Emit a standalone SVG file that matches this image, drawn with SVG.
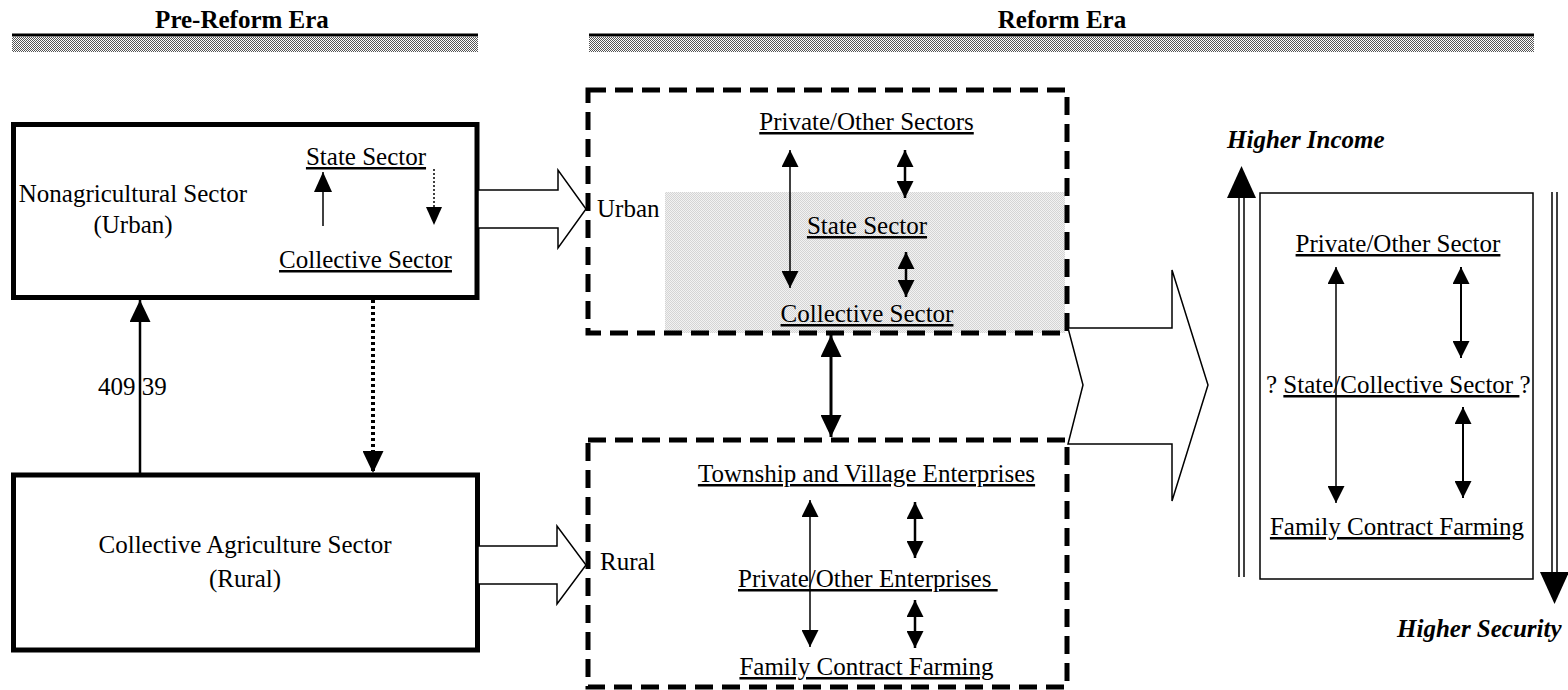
<svg xmlns="http://www.w3.org/2000/svg" width="1568" height="690" viewBox="0 0 1568 690">
<defs>
<style>
text { font-family: "Liberation Serif", "Times New Roman", serif; font-size: 25px; fill: #000; }
.u { text-decoration: underline; }
.hd { font-weight: bold; }
.bi { font-weight: bold; font-style: italic; }
.box { fill: #fff; stroke: #000; stroke-width: 5; }
.dbox { fill: none; stroke: #000; stroke-width: 5; stroke-dasharray: 18 9; }
.ln { stroke: #000; fill: none; }
.hollow { fill: #fff; stroke: #000; stroke-width: 1.5; stroke-linejoin: miter; }
.pre { white-space: pre; }
</style>
<pattern id="hatch" width="2" height="2" patternUnits="userSpaceOnUse">
<rect width="2" height="2" fill="#fff"/><rect width="1" height="1" fill="#555"/><rect x="1" y="1" width="1" height="1" fill="#555"/>
</pattern>
<pattern id="shade" width="2" height="2" patternUnits="userSpaceOnUse">
<rect width="2" height="2" fill="#f2f2f2"/><rect width="1" height="1" fill="#d4d4d4"/><rect x="1" y="1" width="1" height="1" fill="#d4d4d4"/>
</pattern>
<marker id="a17" markerUnits="userSpaceOnUse" viewBox="0 0 17 17" markerWidth="17" markerHeight="17" refX="17" refY="8.5" orient="auto-start-reverse"><path d="M0,0 L17,8.5 L0,17 z" fill="#000"/></marker>
<marker id="a20" markerUnits="userSpaceOnUse" viewBox="0 0 20 18" markerWidth="20" markerHeight="18" refX="20" refY="9" orient="auto-start-reverse"><path d="M0,0 L20,9 L0,18 z" fill="#000"/></marker>
<marker id="a18s" markerUnits="userSpaceOnUse" viewBox="0 0 18 16" markerWidth="18" markerHeight="16" refX="18" refY="8" orient="auto-start-reverse"><path d="M0,0 L18,8 L0,16 z" fill="#000"/></marker>
<marker id="aL" markerUnits="userSpaceOnUse" viewBox="0 0 22 21" markerWidth="22" markerHeight="21" refX="22" refY="10.5" orient="auto-start-reverse"><path d="M0,0 L22,10.5 L0,21 z" fill="#000"/></marker>
</defs>

<rect width="1568" height="690" fill="#fff"/>

<g id="header-pre-reform">
<text class="hd" x="242" y="28" text-anchor="middle">Pre-Reform Era</text>
<line x1="12" y1="35" x2="478" y2="35" class="ln" stroke-width="3"/>
<rect x="12" y="37" width="466" height="15" fill="url(#hatch)"/>
</g>

<g id="header-reform">
<text class="hd" x="1062" y="28" text-anchor="middle">Reform Era</text>
<line x1="589" y1="35" x2="1534" y2="35" class="ln" stroke-width="3"/>
<rect x="589" y="37" width="945" height="15" fill="url(#hatch)"/>
</g>

<g id="node-nonagricultural">
<rect class="box" x="13.5" y="124.5" width="463.5" height="173"/>
<text x="133" y="202" text-anchor="middle">Nonagricultural Sector</text>
<text x="133" y="233" text-anchor="middle">(Urban)</text>
<text class="u" x="366" y="165" text-anchor="middle">State Sector</text>
<text class="u" x="365.5" y="268" text-anchor="middle">Collective Sector</text>
<line class="ln" x1="323" y1="226" x2="323" y2="172" stroke-width="1.5" marker-end="url(#a20)"/>
<line class="ln" x1="434" y1="169" x2="434" y2="225" stroke-width="1.5" stroke-dasharray="2 2" marker-end="url(#a18s)"/>
</g>

<g id="node-collective-agriculture">
<rect class="box" x="13.5" y="475" width="464" height="175"/>
<text x="245" y="553" text-anchor="middle">Collective Agriculture Sector</text>
<text x="245" y="587" text-anchor="middle">(Rural)</text>
</g>

<g id="node-urban">
<rect x="665" y="192" width="400" height="141" fill="url(#shade)"/>
<rect class="dbox" x="588" y="90" width="479" height="243"/>
<text x="597" y="217">Urban</text>
<text class="u" x="866.5" y="130" text-anchor="middle">Private/Other Sectors</text>
<text class="u" x="867" y="234" text-anchor="middle">State Sector</text>
<text class="u" x="867" y="322" text-anchor="middle">Collective Sector</text>
<line class="ln" x1="790" y1="150" x2="790" y2="288" stroke-width="1.5" marker-start="url(#a17)" marker-end="url(#a17)"/>
<line class="ln" x1="905" y1="150" x2="905" y2="198" stroke-width="2.5" marker-start="url(#a17)" marker-end="url(#a17)"/>
<line class="ln" x1="906" y1="252" x2="906" y2="297" stroke-width="2.5" marker-start="url(#a17)" marker-end="url(#a17)"/>
</g>

<g id="node-rural">
<rect class="dbox" x="588" y="440" width="479" height="247"/>
<text x="600" y="570">Rural</text>
<text class="u" x="866.5" y="482" text-anchor="middle">Township and Village Enterprises</text>
<text class="u pre" x="738" y="587">Private/Other Enterprises </text>
<text class="u" x="866.5" y="675" text-anchor="middle">Family Contract Farming</text>
<line class="ln" x1="810" y1="500" x2="810" y2="647" stroke-width="1.5" marker-start="url(#a17)" marker-end="url(#a17)"/>
<line class="ln" x1="915" y1="502" x2="915" y2="558" stroke-width="2.5" marker-start="url(#a17)" marker-end="url(#a17)"/>
<line class="ln" x1="915" y1="600" x2="915" y2="648" stroke-width="2.5" marker-start="url(#a17)" marker-end="url(#a17)"/>
</g>

<g id="node-outcome">
<rect x="1260" y="193" width="273" height="386" fill="#fff" stroke="#000" stroke-width="1.5"/>
<text class="u" x="1398" y="252" text-anchor="middle">Private/Other Sector</text>
<text class="pre" x="1266" y="393">? <tspan class="u">State/Collective Sector </tspan>?</text>
<text class="u" x="1397" y="535" text-anchor="middle">Family Contract Farming</text>
<line class="ln" x1="1336" y1="267" x2="1336" y2="503" stroke-width="1.5" marker-start="url(#a17)" marker-end="url(#a17)"/>
<line class="ln" x1="1461" y1="267" x2="1461" y2="358" stroke-width="2" marker-start="url(#a17)" marker-end="url(#a17)"/>
<line class="ln" x1="1463" y1="407" x2="1463" y2="498" stroke-width="2" marker-start="url(#a17)" marker-end="url(#a17)"/>
</g>

<g id="axis-income">
<line class="ln" x1="1239" y1="196" x2="1239" y2="577" stroke-width="1.5"/>
<line class="ln" x1="1244" y1="196" x2="1244" y2="577" stroke-width="1.5"/>
<polygon points="1227,198 1241.5,166 1256,198" fill="#000"/>
<text class="bi" x="1227" y="148">Higher Income</text>
</g>

<g id="axis-security">
<line class="ln" x1="1552" y1="192" x2="1552" y2="574" stroke-width="1.5"/>
<line class="ln" x1="1557" y1="192" x2="1557" y2="574" stroke-width="1.5"/>
<polygon points="1540,572 1554.5,604 1569,572" fill="#000"/>
<text class="bi" x="1397" y="637">Higher Security</text>
</g>

<g id="connectors">
<polygon class="hollow" points="478,190 558,190 558,170 586,209 558,248 558,228 478,228"/>
<polygon class="hollow" points="478,546 557,546 557,526 586,565 557,604 557,584 478,584"/>
<polygon class="hollow" points="1068,328 1172,328 1172,270 1208,385 1172,501 1172,444 1068,444 1083,385"/>
<line class="ln" x1="140" y1="473" x2="140" y2="300" stroke-width="2.5" marker-end="url(#aL)"/>
<text x="98" y="395" class="pre">409 39</text>
<line class="ln" x1="373" y1="300" x2="373" y2="473" stroke-width="4" stroke-dasharray="3 3" marker-end="url(#aL)"/>
<line class="ln" x1="831" y1="335" x2="831" y2="437" stroke-width="3" marker-start="url(#aL)" marker-end="url(#aL)"/>
</g>
</svg>
